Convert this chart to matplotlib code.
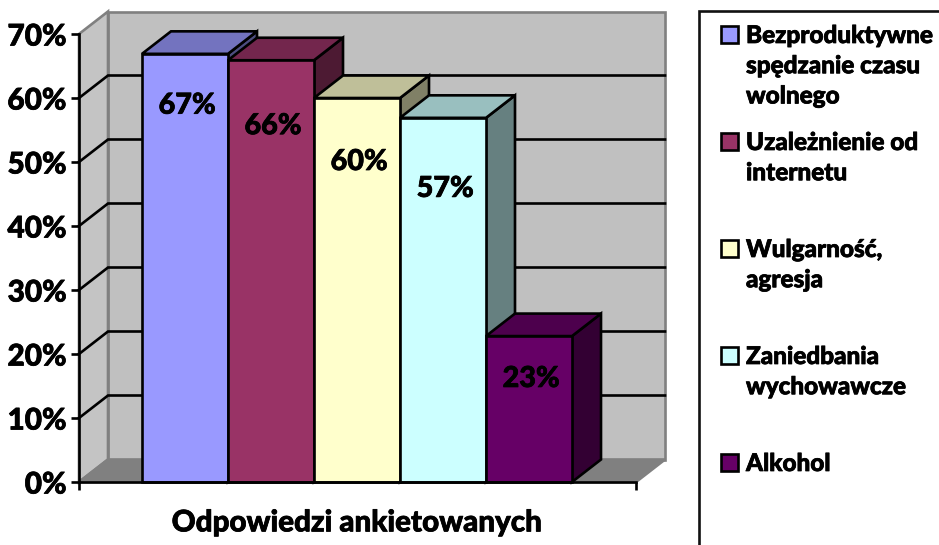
import matplotlib
matplotlib.use('Agg')
import matplotlib.pyplot as plt
import matplotlib.patheffects as pe
from matplotlib.patches import Rectangle
from matplotlib.colors import to_rgb

categories = ['Bezproduktywne\nspędzanie czasu\nwolnego', 'Uzależnienie od\ninternetu',
              'Wulgarność,\nagresja', 'Zaniedbania\nwychowawcze', 'Alkohol']
values = [66.9, 65.9, 60.0, 56.9, 22.8]
labels = ['67%', '66%', '60%', '57%', '23%']
colors = ['#9999FF', '#993366', '#FFFFCC', '#CCFFFF', '#660066']
yticks = [0, 10, 20, 30, 40, 50, 60, 70]

W, H = 939, 545
LW = 1.9
WEIGHT = 900
# lato alone is a bit thin next to the original, thicken it slightly
HEAVY = [pe.withStroke(linewidth=0.55, foreground='black')]
plt.rcParams['font.family'] = ['Lato', 'DejaVu Sans']

fig = plt.figure(figsize=(W / 100, H / 100), dpi=100)
# axes = front plane of the 3d box
ax = fig.add_axes([79 / W, 1 - 482 / H, (636 - 79) / W, (482 - 34) / H])
ax.patch.set_visible(False)

bar_w_px = 86.0
ax.set_xlim((79 - 142) / bar_w_px, (636 - 142) / bar_w_px)
ax.set_ylim(0, 70)
x0, x1 = ax.get_xlim()
dx = 29 / bar_w_px   # depth in data units
dy = 22.5 / 6.4


def shade(c, k):
    return tuple(v * k for v in to_rgb(c))


# walls
wall = dict(clip_on=False, zorder=1, edgecolor='#808080', linewidth=LW)
ax.fill([x0 + dx, x1 + dx, x1 + dx, x0 + dx], [dy, dy, 70 + dy, 70 + dy], facecolor='#C0C0C0', **wall)
ax.fill([x0, x0 + dx, x0 + dx, x0], [0, dy, 70 + dy, 70], facecolor='#C4C4C4', **wall)
ax.fill([x0, x1, x1 + dx, x0 + dx], [0, 0, dy, dy], facecolor='#808080', **wall)

# gridlines on back wall and side wall
for t in yticks[1:-1]:
    ax.plot([x0, x0 + dx, x1 + dx], [t, t + dy, t + dy], color='black', lw=LW, zorder=2,
            clip_on=False, solid_joinstyle='miter')

# bars, left to right so each one covers the previous side face
for i, (v, c) in enumerate(zip(values, colors)):
    z = 3 + i
    edge = dict(edgecolor='black', linewidth=LW, clip_on=False, zorder=z, joinstyle='miter')
    ax.fill([i + 1, i + 1 + dx, i + 1 + dx, i + 1], [0, dy, v + dy, v], facecolor=shade(c, 0.5), **edge)
    ax.fill([i, i + 1, i + 1 + dx, i + dx], [v, v, v + dy, v + dy], facecolor=shade(c, 0.75), **edge)
    ax.bar(i, v, width=1, align='edge', color=c, edgecolor='black', linewidth=LW, zorder=z, clip_on=False)

# data labels sit a little under the top of each bar
label_drop = [8.1, 10.3, 10.0, 11.1, 6.7]
for i, (v, s, d) in enumerate(zip(values, labels, label_drop)):
    ax.text(i + 0.525, v - d, s, ha='center', va='center', fontsize=20.7, color='black',
            fontweight=WEIGHT, zorder=20, path_effects=HEAVY)

ax.set_yticks(yticks)
ax.set_yticklabels([f'{t}%' for t in yticks], fontsize=21.4, fontweight=WEIGHT, path_effects=HEAVY)
ax.set_xticks([x0, x1])
ax.set_xticklabels([])
ax.tick_params(axis='both', length=5.5, width=LW, color='black', pad=3.5)
for s in ('top', 'right'):
    ax.spines[s].set_visible(False)
for s in ('left', 'bottom'):
    ax.spines[s].set_linewidth(LW)
    ax.spines[s].set_zorder(15)
ax.set_xlabel('Odpowiedzi ankietowanych', fontsize=21.3, fontweight=WEIGHT, labelpad=10,
              path_effects=HEAVY)

# legend box runs off the picture on the right and at the bottom
fig.add_artist(Rectangle((699 / W, -0.05), 0.4, 1.05 - 11 / H, transform=fig.transFigure,
                         facecolor='white', edgecolor='#111111', linewidth=LW))
legend_tops = [24, 131, 238, 345, 452]
for top, name, c in zip(legend_tops, categories, colors):
    fig.add_artist(Rectangle((721 / W, 1 - (top + 19) / H), 17 / W, 17 / H, transform=fig.transFigure,
                             facecolor=c, edgecolor='black', linewidth=LW))
    fig.text(746 / W, 1 - top / H, name, ha='left', va='top', fontsize=17.5, fontweight=WEIGHT,
             linespacing=1.38, color='black', path_effects=HEAVY)

fig.savefig('out.png', dpi=100, facecolor='white')
